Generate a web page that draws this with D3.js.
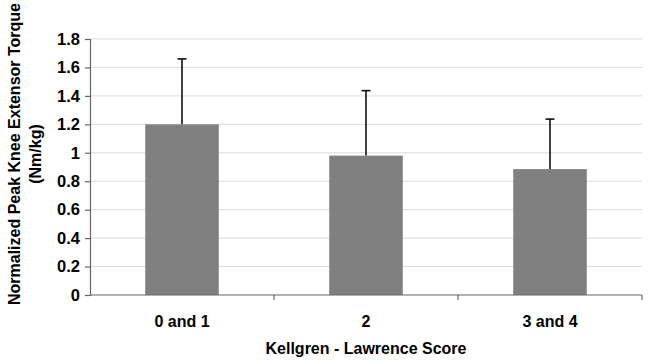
<!DOCTYPE html>
<html>
<head>
<meta charset="utf-8">
<script src="https://cdn.jsdelivr.net/npm/d3@7"></script>
<style>
  body { margin: 0; background: #fff; }
  text { font-family: Arial, "Liberation Sans", sans-serif; font-weight: bold; fill: #000; }
</style>
</head>
<body>
<div id="chart"></div>
<script>
// data
const categories = ["0 and 1", "2", "3 and 4"];
const means = [1.2, 0.98, 0.885];
const sds = [0.46, 0.457, 0.352];
const yTicks = [0, 0.2, 0.4, 0.6, 0.8, 1, 1.2, 1.4, 1.6, 1.8];

const width = 649, height = 360;
const margin = { top: 39, right: 7, bottom: 65, left: 90 };

const svg = d3.select("#chart").append("svg")
    .attr("width", width)
    .attr("height", height);

const x = d3.scaleBand()
    .domain(categories)
    .range([margin.left, width - margin.right])
    .paddingInner(0.6)
    .paddingOuter(0.3);

const y = d3.scaleLinear()
    .domain([0, 1.8])
    .range([height - margin.bottom, margin.top]);

// gridlines
svg.append("g")
    .selectAll("line")
    .data(yTicks.slice(1))
    .join("line")
    .attr("x1", margin.left)
    .attr("x2", width - margin.right)
    .attr("y1", d => y(d))
    .attr("y2", d => y(d))
    .attr("stroke", "#dcdcdc")
    .attr("stroke-width", 1);

// bars
svg.append("g")
    .selectAll("rect")
    .data(categories)
    .join("rect")
    .attr("x", d => x(d))
    .attr("width", x.bandwidth())
    .attr("y", (d, i) => y(means[i]))
    .attr("height", (d, i) => y(0) - y(means[i]))
    .attr("fill", "#808080");

// error bars (upper only)
const err = svg.append("g").attr("stroke", "#000").attr("stroke-width", 1.5);
categories.forEach((c, i) => {
    const cx = x(c) + x.bandwidth() / 2;
    err.append("line")
        .attr("x1", cx).attr("x2", cx)
        .attr("y1", y(means[i])).attr("y2", y(means[i] + sds[i]));
    err.append("line")
        .attr("x1", cx - 4.5).attr("x2", cx + 4.5)
        .attr("y1", y(means[i] + sds[i])).attr("y2", y(means[i] + sds[i]));
});

// y axis
const yAxis = svg.append("g")
    .attr("transform", `translate(${margin.left},0)`)
    .call(d3.axisLeft(y).tickValues(yTicks).tickSize(5).tickPadding(5)
        .tickFormat(d => d3.format("")(+d.toFixed(1))));
yAxis.select(".domain").attr("stroke", "#666").attr("stroke-width", 1.2);
yAxis.selectAll(".tick line").attr("stroke", "#666").attr("stroke-width", 1.2);
yAxis.selectAll("text")
    .attr("fill", "#000")
    .style("font-size", "16.5px")
    .style("font-family", "Arial, 'Liberation Sans', sans-serif")
    .style("font-weight", "bold");

// x axis
const step = (width - margin.right - margin.left) / categories.length;
const xAxisG = svg.append("g").attr("transform", `translate(0,${y(0)})`);
xAxisG.append("line")
    .attr("x1", margin.left).attr("x2", width - margin.right)
    .attr("stroke", "#666").attr("stroke-width", 1.2);
xAxisG.selectAll(".tk")
    .data(d3.range(1, categories.length + 1))
    .join("line")
    .attr("x1", d => margin.left + d * step)
    .attr("x2", d => margin.left + d * step)
    .attr("y1", 0).attr("y2", 5)
    .attr("stroke", "#666").attr("stroke-width", 1.2);
xAxisG.selectAll("text")
    .data(categories)
    .join("text")
    .attr("x", d => x(d) + x.bandwidth() / 2)
    .attr("y", 32)
    .attr("text-anchor", "middle")
    .style("font-size", "16px")
    .text(d => d);

// axis titles
svg.append("text")
    .attr("x", margin.left + (width - margin.right - margin.left) / 2)
    .attr("y", 354)
    .attr("text-anchor", "middle")
    .style("font-size", "16px")
    .text("Kellgren - Lawrence Score");

const yTitle = svg.append("text")
    .attr("transform", "translate(20,154) rotate(-90)")
    .attr("text-anchor", "middle")
    .style("font-size", "16px");
yTitle.append("tspan").attr("x", 0).attr("y", 0).text("Normalized Peak Knee Extensor Torque");
yTitle.append("tspan").attr("x", 0).attr("y", 21).text("(Nm/kg)");
</script>
</body>
</html>
